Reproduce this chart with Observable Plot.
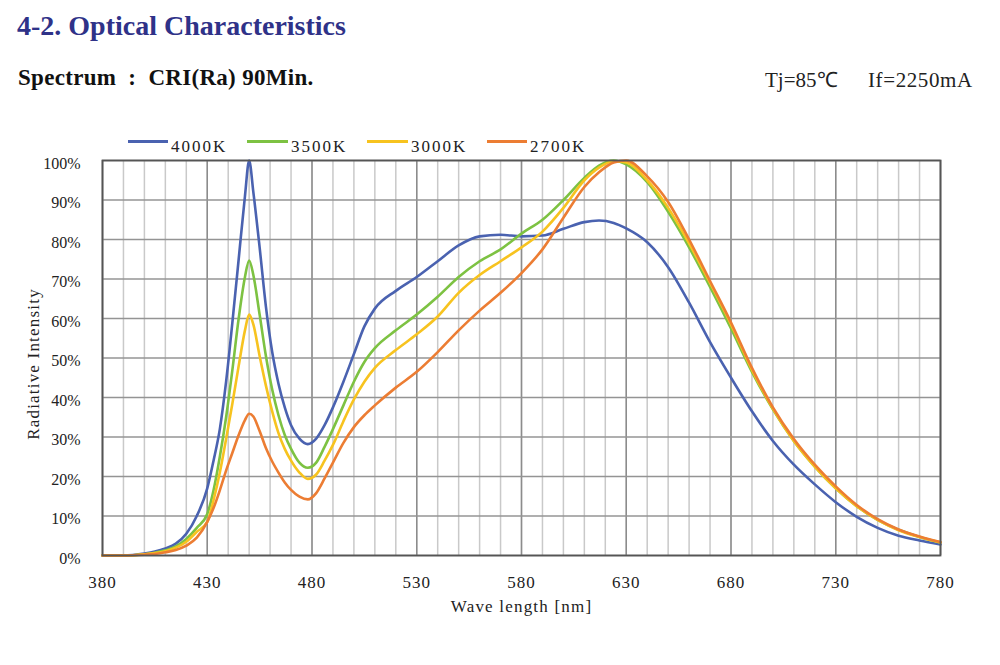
<!DOCTYPE html>
<html>
<head>
<meta charset="utf-8">
<script src="https://cdn.jsdelivr.net/npm/d3@7"></script>
<script src="https://cdn.jsdelivr.net/npm/@observablehq/plot@0.6"></script>
<style>
  html, body { margin: 0; padding: 0; background: #fff; }
  #page { width: 1000px; height: 665px; position: relative; overflow: hidden; font-family: "Liberation Serif", "Times New Roman", serif; }
  #hdr { position: relative; width: 1000px; height: 156px; }
  .t { position: absolute; line-height: 1; white-space: pre; }
  .sw { position: absolute; height: 3px; top: 139.5px; }
  .lg { position: absolute; font-size: 17px; letter-spacing: 2px; top: 137.8px; line-height: 1; color: #222; }
  #chart svg { display: block; }
  #chart g[aria-label="x-axis tick label"] text { letter-spacing: 1px; }
  #chart .lbl text, #chart text.lbl { letter-spacing: 1.2px; }
</style>
</head>
<body>
<div id="page">
  <div id="hdr"></div>
  <div id="chart"></div>
</div>
<script>
// ---- data ----
const wavelengths = [380,390,400,405,410,415,420,425,430,433,436,439,442,445,448,450,452,455,458,461,464,467,470,474,478,482,486,490,495,500,505,510,520,530,540,550,560,570,580,590,600,610,617,624,630,640,650,660,670,680,690,700,710,720,730,740,750,760,770,780];
const cct4000 = [0,0,0.5,1,1.8,3,5.5,10,17,24,32,44,59,75,91,100,92,78,63,51.5,43.5,37.5,33,29.6,28.2,29.6,33,37.5,44,51,58,62.5,67,70.5,74.5,78.5,80.8,81.2,80.8,81,82.7,84.4,84.8,84.2,82.8,79.3,73,64,54,45,36.5,29,23,18,13.5,9.8,7,5,3.8,2.8];
const cct3500 = [0,0,0.3,0.7,1.3,2.3,4.2,7,10.5,16.5,25,35,47,60,70.5,74.7,71,61,50.5,42,35.5,30.5,27,23.5,22.2,23.5,27.5,32,38,44,49,52.5,57,61,65.5,70.5,74.5,77.5,81.5,85,90,95.6,98.7,100,99,94.5,87,78,68,57.5,46.5,37,29,22.5,17,12.5,9,6.5,4.7,3.3];
const cct3000 = [0,0,0.3,0.6,1.1,2,3.5,6,8.5,14,21,29.5,38.5,48,57,61,58.5,50.5,43,36.5,31,27,24,21,19.4,20.5,24,28,34,39.5,44,47.5,52,56,60.5,66.5,71,74.5,78,82,88,95,98.2,99.8,99.5,95,88,79,69,58.5,47,37.2,29,22.5,17,12.5,9,6.4,4.7,3.3];
const cct2700 = [0,0,0.2,0.4,0.8,1.4,2.5,4.5,8.5,12,16.5,21.5,26,30.5,34.3,35.9,35.2,31.5,27.2,23.8,21,18.5,16.6,14.9,14.2,15.8,19.5,23.5,28.5,32.5,35.5,38,42.5,46.5,51.5,57,62,66.5,71.5,77.5,85.5,93.3,97,99.5,100,96,89.5,80,69.5,59,47.5,37.5,29.5,23,17.5,12.8,9.2,6.6,4.8,3.4];
const seriesNames = ["4000K","3500K","3000K","2700K"];
const seriesColors = ["#4a62b0","#7dc242","#f7c31f","#ec7d33"];
const xTicks = [380,430,480,530,580,630,680,730,780];
const xMinor = d3.range(380, 781, 10);
const yTicks = [0,10,20,30,40,50,60,70,80,90,100];

const titleText = "4-2. Optical Characteristics";
const subtitleText = "Spectrum  :  CRI(Ra) 90Min.";
const condTj = "Tj=85\u2103";
const condIf = "If=2250mA";
const xLabel = "Wave length [nm]";
const yLabel = "Radiative Intensity";

// ---- header ----
const hdr = document.getElementById("hdr");
function addText(txt, css) {
  const d = document.createElement("div");
  d.className = "t";
  d.textContent = txt;
  Object.assign(d.style, css);
  hdr.appendChild(d);
}
addText(titleText, {left: "17px", top: "11.5px", fontSize: "28px", fontWeight: "bold", color: "#2f3288"});
addText(subtitleText, {left: "18px", top: "65.7px", fontSize: "23px", fontWeight: "bold", color: "#111", letterSpacing: "0.3px"});
addText(condTj, {left: "765px", top: "69.5px", fontSize: "21px", color: "#222"});
addText(condIf, {left: "868px", top: "69.5px", fontSize: "21px", color: "#222", letterSpacing: "0.6px"});

const legendPos = [[128,171],[247,291],[367,411],[487,530]];
seriesNames.forEach((n, i) => {
  const s = document.createElement("div");
  s.className = "sw";
  s.style.left = legendPos[i][0] + "px";
  s.style.width = (legendPos[i][1] - legendPos[i][0] - 3) + "px";
  s.style.background = seriesColors[i];
  hdr.appendChild(s);
  const l = document.createElement("div");
  l.className = "lg";
  l.style.left = legendPos[i][1] + "px";
  l.textContent = n;
  hdr.appendChild(l);
});

// ---- chart ----
const allSeries = [cct4000, cct3500, cct3000, cct2700];
const rows = [];
allSeries.forEach((vals, i) => {
  wavelengths.forEach((w, j) => rows.push({wl: w, v: vals[j], series: seriesNames[i]}));
});

const chart = Plot.plot({
  width: 1000,
  height: 509,
  marginLeft: 102,
  marginRight: 60,
  marginTop: 4,
  marginBottom: 110,
  style: {fontFamily: "'Liberation Serif', 'Times New Roman', serif", fontSize: "16px", color: "#222", background: "#fff"},
  x: {domain: [380, 780]},
  y: {domain: [0, 100]},
  color: {domain: seriesNames, range: seriesColors},
  marks: [
    Plot.ruleX(xMinor, {stroke: "#c9c9c9", strokeWidth: 1.5}),
    Plot.ruleX(xTicks, {stroke: "#8c8c8c", strokeWidth: 1.5}),
    Plot.ruleY(yTicks, {stroke: "#949494", strokeWidth: 1.5}),
    Plot.line(rows, {x: "wl", y: "v", z: "series", stroke: "series", strokeWidth: 2.6, curve: "monotone-x"}),
    Plot.frame({stroke: "#555", strokeWidth: 1.8}),
    Plot.axisX({ticks: xTicks, tickSize: 0, tickPadding: 20, fontSize: 17, label: null, tickFormat: d => String(d)}),
    Plot.axisY({ticks: yTicks, tickSize: 0, tickPadding: 22, fontSize: 16, label: null, dy: 3, tickFormat: d => d + "%"}),
    Plot.text([xLabel], {frameAnchor: "bottom", dy: 56, fontSize: 17, fill: "#222", text: d => d, className: "lbl"}),
    Plot.text([yLabel], {frameAnchor: "left", textAnchor: "middle", dx: -69, dy: 6, rotate: -90, fontSize: 17, fill: "#222", text: d => d, className: "lbl"})
  ]
});
document.getElementById("chart").appendChild(chart);
</script>
</body>
</html>
